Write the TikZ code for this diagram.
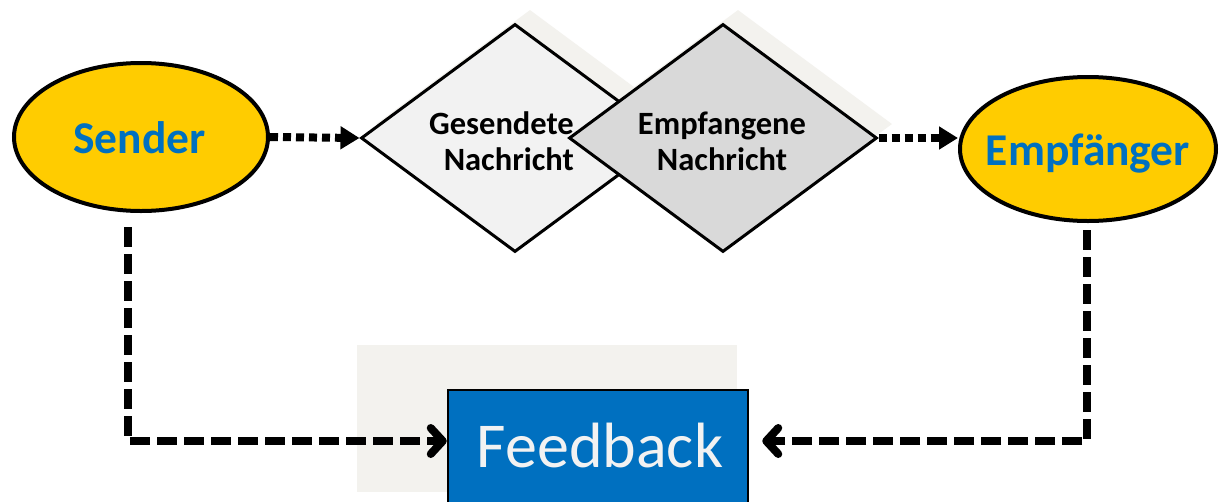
\documentclass[tikz,border=0pt]{standalone}
\usepackage{fontspec}
\setmainfont{Carlito}
\usetikzlibrary{shapes.geometric,arrows.meta}
\definecolor{yel}{HTML}{FFCC00}
\definecolor{blu}{HTML}{0070C0}
\definecolor{shad}{HTML}{F3F2EE}
\definecolor{dlight}{HTML}{F2F2F2}
\definecolor{dgray}{HTML}{D9D9D9}
\definecolor{fbtext}{HTML}{F2F2F2}
\begin{document}
\begin{tikzpicture}[x=1pt,y=-1pt,
 ell/.style={ellipse, draw=black, line width=4pt, fill=yel, inner sep=0},
 dia/.style={diamond, draw=black, line width=3pt, minimum width=308pt, minimum height=228pt, inner sep=0},
 shd/.style={diamond, fill=shad, minimum width=308pt, minimum height=228pt, inner sep=0},
 lbl/.style={font=\bfseries\fontsize{45.5}{50}\selectfont, text=blu, inner sep=0, anchor=base},
 dlbl/.style={font=\bfseries\fontsize{32.5}{36}\selectfont, inner sep=0},
 dotline/.style={line width=8pt, dash pattern=on 8pt off 5pt, -{Triangle[length=19pt,width=22pt]}},
 dashline/.style={line width=8pt, dash pattern=on 20pt off 7pt, -{Straight Barb[length=12pt,width=26pt,round]}}]
\clip (0,0) rectangle (1219,501);
\fill[white] (0,0) rectangle (1219,501);
% diamonds with shadows
\node[shd] (d1sh) at (530,124) {};
\node[shd] (d2sh) at (738,124) {};
\node[dia, fill=dlight] (d1) at (515,138) {};
\node[dia, fill=dgray] (d2) at (723,138) {};
\node[dlbl, align=right, anchor=east] (t1) at (574,141) {Gesendete\\Nachricht};
\node[dlbl, align=center] (t2) at (722,141) {Empfangene\\Nachricht};
% ellipses
\node[ell, minimum width=254pt, minimum height=148pt] (S) at (141,137) {};
\node[lbl] (St) at (139.5,153) {Sender};
\node[ell, minimum width=256pt, minimum height=144pt] (E) at (1088,149) {};
\node[lbl] (Et) at (1088,165) {Empfänger};
% feedback
\node[fill=shad, minimum width=380pt, minimum height=147pt, inner sep=0] (fbsh) at (547,418.5) {};
\node[draw=black, line width=2.5pt, fill=blu, minimum width=300pt, minimum height=120pt, inner sep=0] (F) at (598,450) {};
\node[inner sep=0, anchor=base, text=fbtext, font=\fontsize{64}{70}\selectfont] (Ft) at (600,467) {Feedback};
% connectors
\draw[dotline] (S.east) -- (d1.west);
\draw[dotline] (d2.east) -- (d2.east -| E.west);
\draw[dashline] ([xshift=-13pt,yshift=-14pt]S.south) |- ([yshift=9pt]F.west);
\draw[dashline] ([xshift=-1pt,yshift=-7pt]E.south) |- ([xshift=13pt,yshift=9pt]F.east);
\end{tikzpicture}
\end{document}
